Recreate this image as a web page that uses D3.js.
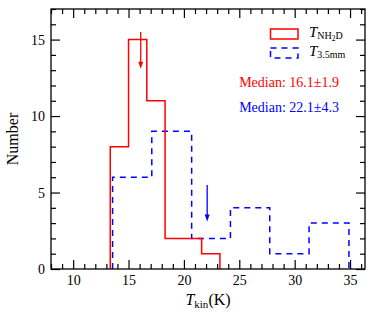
<!DOCTYPE html>
<html>
<head>
<meta charset="utf-8">
<script src="https://cdn.jsdelivr.net/npm/d3@7"></script>
<style>
  body { margin: 0; background: #fff; }
  svg text { font-family: "Liberation Serif", "DejaVu Serif", serif; }
</style>
</head>
<body>
<div id="chart"></div>
<script>
// bin edges and counts
const nh2dEdges = [13.35, 15.0, 16.65, 18.3, 19.95, 21.6, 23.25];
const nh2dCounts = [8, 15, 11, 2, 2, 1];
const mmEdges = [13.56, 17.1, 20.7, 24.2, 27.75, 31.3, 34.9];
const mmCounts = [6, 9, 2, 4, 1, 3];
const medians = [16.1, 22.1];
const medianErr = [1.9, 4.3];
const xMajor = [10, 15, 20, 25, 30, 35];
const yMajor = [0, 5, 10, 15];

const W = 374, H = 320;
const margin = { top: 9, right: 9, bottom: 51, left: 51 },
      width = W - margin.left - margin.right,
      height = H - margin.top - margin.bottom;

const svg = d3.select("#chart").append("svg")
    .attr("width", W).attr("height", H)
  .append("g")
    .attr("transform", `translate(${margin.left},${margin.top})`);

const x = d3.scaleLinear().domain([8, 36.35]).range([0, width]);
const y = d3.scaleLinear().domain([0, 17]).range([height, 0]);

const xMinor = d3.range(8, 37, 1).filter(d => !xMajor.includes(d));
const yMinor = d3.range(0, 18, 1).filter(d => !yMajor.includes(d));

function styleAxis(g) {
  g.selectAll("path").remove();
  g.selectAll("line").attr("stroke", "#000").attr("stroke-width", 1.2);
  g.selectAll("text").attr("fill", "#000").style("font-size", "14px")
    .style("font-family", '"Liberation Serif", serif');
}

// bottom
svg.append("g").attr("transform", `translate(0,${height})`)
  .call(d3.axisBottom(x).tickValues(xMajor).tickSize(-9).tickPadding(6).tickFormat(d3.format("d")))
  .call(styleAxis);
svg.append("g").attr("transform", `translate(0,${height})`)
  .call(d3.axisBottom(x).tickValues(xMinor).tickSize(-5).tickFormat(""))
  .call(styleAxis);
// top
svg.append("g")
  .call(d3.axisTop(x).tickValues(xMajor).tickSize(-9).tickFormat(""))
  .call(styleAxis);
svg.append("g")
  .call(d3.axisTop(x).tickValues(xMinor).tickSize(-5).tickFormat(""))
  .call(styleAxis);
// left
svg.append("g")
  .call(d3.axisLeft(y).tickValues(yMajor).tickSize(-9).tickPadding(6).tickFormat(d3.format("d")))
  .call(styleAxis);
svg.append("g")
  .call(d3.axisLeft(y).tickValues(yMinor).tickSize(-5).tickFormat(""))
  .call(styleAxis);
// right
svg.append("g").attr("transform", `translate(${width},0)`)
  .call(d3.axisRight(y).tickValues(yMajor).tickSize(-9).tickFormat(""))
  .call(styleAxis);
svg.append("g").attr("transform", `translate(${width},0)`)
  .call(d3.axisRight(y).tickValues(yMinor).tickSize(-5).tickFormat(""))
  .call(styleAxis);

// step histograms
function stepPoints(edges, counts) {
  const pts = [[edges[0], 0]];
  counts.forEach((c, i) => pts.push([edges[i], c]));
  pts.push([edges[edges.length - 1], 0]);
  return pts;
}
const step = d3.line().x(d => x(d[0])).y(d => y(d[1])).curve(d3.curveStepAfter);

svg.append("path")
  .attr("d", step(stepPoints(mmEdges, mmCounts)))
  .attr("fill", "none").attr("stroke", "#0000ff").attr("stroke-width", 1.5)
  .attr("stroke-dasharray", "6,5");

svg.append("path")
  .attr("d", step(stepPoints(nh2dEdges, nh2dCounts)))
  .attr("fill", "none").attr("stroke", "#ff0000").attr("stroke-width", 1.5);

// median arrows
const arrowColors = ["#ff0000", "#0000ff"];
const arrowTop = [15.5, 5.5];
const arrowTip = [13.1, 3.1];
medians.forEach((m, i) => {
  const cx = x(m), y0 = y(arrowTop[i]), y1 = y(arrowTip[i]);
  svg.append("line").attr("x1", cx).attr("x2", cx).attr("y1", y0).attr("y2", y1 - 5)
    .attr("stroke", arrowColors[i]).attr("stroke-width", 1.3);
  svg.append("path")
    .attr("d", `M${cx - 2.5},${y1 - 7}L${cx + 2.5},${y1 - 7}L${cx},${y1}Z`)
    .attr("fill", arrowColors[i]);
});

// frame
svg.append("rect").attr("width", width).attr("height", height)
  .attr("fill", "none").attr("stroke", "#000").attr("stroke-width", 1.3);

// legend
const leg = svg.append("g").attr("transform", `translate(${270.5 - margin.left},${29 - margin.top})`);
leg.append("rect").attr("x", 0).attr("y", 0).attr("width", 27.5).attr("height", 10)
  .attr("fill", "none").attr("stroke", "#ff0000").attr("stroke-width", 1.5);
leg.append("rect").attr("x", 0).attr("y", 19).attr("width", 27.5).attr("height", 10)
  .attr("fill", "none").attr("stroke", "#0000ff").attr("stroke-width", 1.5)
  .attr("stroke-dasharray", "6,5");

const t1 = leg.append("text").attr("x", 38.5).attr("y", 7.5).style("font-size", "15px");
t1.append("tspan").style("font-style", "italic").text("T");
t1.append("tspan").attr("dy", 2.5).style("font-size", "10px").text("NH");
t1.append("tspan").attr("dy", 2).style("font-size", "7.5px").text("2");
t1.append("tspan").attr("dy", -2).style("font-size", "10px").text("D");

const t2 = leg.append("text").attr("x", 38.5).attr("y", 26.5).style("font-size", "15px");
t2.append("tspan").style("font-style", "italic").text("T");
t2.append("tspan").attr("dy", 2.5).style("font-size", "10px").text("3.5mm");

svg.append("text").attr("x", 339 - margin.left).attr("y", 86.5 - margin.top)
  .attr("text-anchor", "end").attr("fill", "#ff0000").style("font-size", "14px")
  .text(`Median: ${medians[0]}\u00b1${medianErr[0]}`);
svg.append("text").attr("x", 339 - margin.left).attr("y", 111.5 - margin.top)
  .attr("text-anchor", "end").attr("fill", "#0000ff").style("font-size", "14px")
  .text(`Median: ${medians[1]}\u00b1${medianErr[1]}`);

// axis titles
svg.append("text")
  .attr("transform", "rotate(-90)")
  .attr("x", -height / 2).attr("y", -33)
  .attr("text-anchor", "middle").style("font-size", "16px")
  .text("Number");

const xl = svg.append("text").attr("x", width / 2).attr("y", height + 36)
  .attr("text-anchor", "middle").style("font-size", "16px");
xl.append("tspan").style("font-style", "italic").text("T");
xl.append("tspan").attr("dy", 3).style("font-size", "11px").text("kin");
xl.append("tspan").attr("dy", -3).text("(K)");
</script>
</body>
</html>
